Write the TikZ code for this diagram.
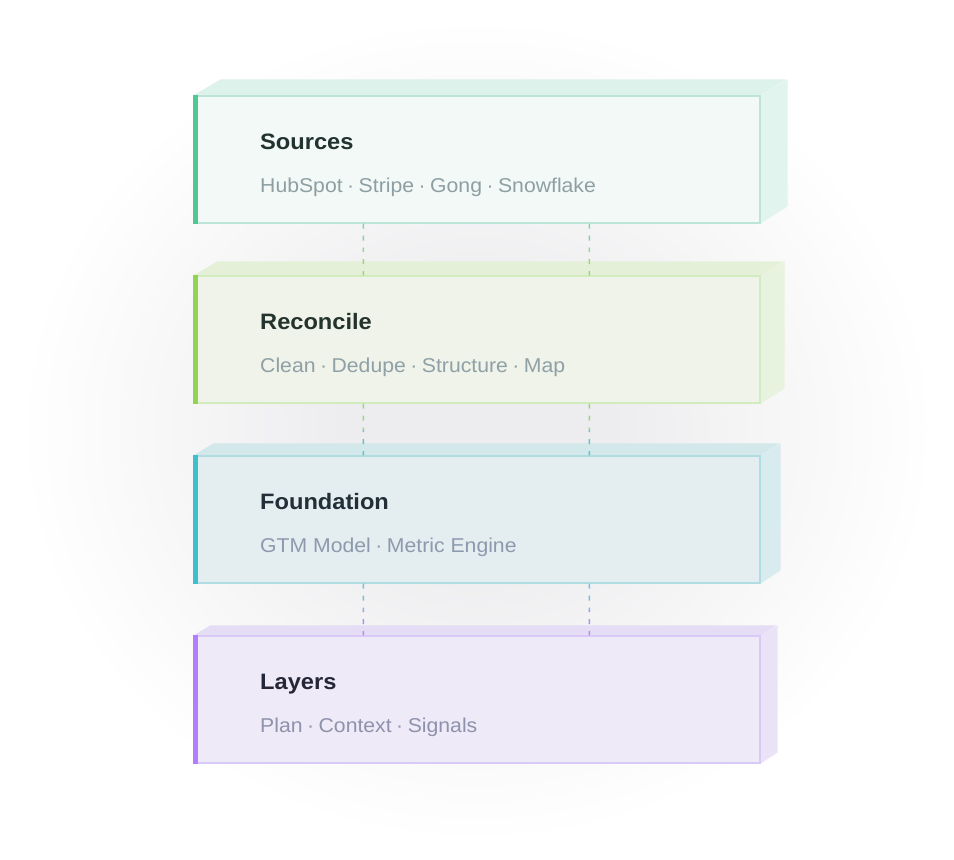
\documentclass[tikz,border=0pt]{standalone}
\usepackage{fontspec}
\setmainfont{Liberation Sans}
\newfontfamily\wfont[FakeStretch=1.06]{Liberation Sans}
\newfontfamily\sfont[FakeStretch=1.06]{Liberation Sans}
\usetikzlibrary{calc}
\pgfdeclarelayer{background}
\pgfsetlayers{background,main}

\definecolor{glowc}{HTML}{EDEDEF}
% Sources
\definecolor{aacc}{HTML}{4FC894}
\definecolor{afront}{HTML}{F2F9F7}
\definecolor{atop}{HTML}{DDF2EA}
\definecolor{aside}{HTML}{E2F4EE}
\definecolor{abd}{HTML}{BCE5D5}
\definecolor{attl}{HTML}{22332F}
\definecolor{asub}{HTML}{8E9FA3}
% Reconcile
\definecolor{bacc}{HTML}{92D351}
\definecolor{bfront}{HTML}{EFF3E9}
\definecolor{btop}{HTML}{E4F1D8}
\definecolor{bside}{HTML}{E8F3DF}
\definecolor{bbd}{HTML}{D2EBBF}
\definecolor{bttl}{HTML}{25332E}
\definecolor{bsub}{HTML}{8FA0A6}
% Foundation
\definecolor{cacc}{HTML}{3CC0CE}
\definecolor{cfront}{HTML}{E4EDF0}
\definecolor{ctop}{HTML}{D2E8EB}
\definecolor{cside}{HTML}{D8EBEE}
\definecolor{cbd}{HTML}{B0DDE2}
\definecolor{cttl}{HTML}{222F39}
\definecolor{csub}{HTML}{8D9AAD}
% Layers
\definecolor{dacc}{HTML}{B47CFF}
\definecolor{dfront}{HTML}{EEEAF7}
\definecolor{dtop}{HTML}{E5DDF5}
\definecolor{dside}{HTML}{EAE3F7}
\definecolor{dbd}{HTML}{D9C9F6}
\definecolor{dttl}{HTML}{252638}
\definecolor{dsub}{HTML}{8E92AC}
% dashes
\definecolor{d1a}{HTML}{80D4A6}
\definecolor{d1b}{HTML}{9CD67C}
\definecolor{d2a}{HTML}{9CD67C}
\definecolor{d2b}{HTML}{62C4C6}
\definecolor{d3a}{HTML}{72C0DA}
\definecolor{d3b}{HTML}{AA90F0}

\pgfdeclareradialshading{glow}{\pgfpoint{0bp}{0bp}}{color(0bp)=(glowc); color(7bp)=(glowc); color(24bp)=(white); color(50bp)=(white)}

\newcommand\sep{\kern4.5pt·\kern4.5pt}

\tikzset{
  frontbox/.style={draw, rectangle, minimum width=566pt, minimum height=127pt, inner sep=0pt, line width=1.2pt},
  ttl/.style={anchor=base west, inner sep=0pt, font=\wfont\bfseries\fontsize{22.3}{26}\selectfont},
  subt/.style={anchor=base west, inner sep=0pt, font=\sfont\fontsize{20}{24}\selectfont},
  dashline/.style={line width=1.5pt, dash pattern=on 5pt off 7pt}
}

\newcommand\layerblock[7]{%
  \node[frontbox, fill=#5front, draw=#5bd] (#1) at (477,{#2+63.5}) {};
  \begin{pgfonlayer}{background}
    \fill[#5top] (#1.north west) -- ++(#3,-#4) -- ++(566,0) -- (#1.north east) -- cycle;
    \fill[#5side] (#1.north east) -- ++(#3,-#4) -- ++(0,127) -- (#1.south east) -- cycle;
  \end{pgfonlayer}
  \fill[#5acc] ($(#1.north west)+(-0.6,-0.6)$) rectangle ($(#1.south west)+(5,0.6)$);
  \node[ttl, text=#5ttl] (#1t) at (260,{#2+53}) {#6};
  \node[subt, text=#5sub] (#1s) at (260,{#2+96}) {#7};
}

\begin{document}
\begin{tikzpicture}[x=1pt,y=-1pt]
\useasboundingbox (0,0) rectangle (954,860);
\begin{pgfonlayer}{background}
  \shade[shading=glow] (0,0) rectangle (954,860);
\end{pgfonlayer}

\layerblock{src}{96}{27}{16}{a}{Sources}{HubSpot\sep Stripe\sep Gong\sep Snowflake}
\layerblock{rec}{276}{24}{14}{b}{Reconcile}{Clean\sep Dedupe\sep Structure\sep Map}
\layerblock{fnd}{456}{20}{12}{c}{Foundation}{GTM Model\sep Metric Engine}
\layerblock{lay}{636}{17}{10}{d}{Layers}{Plan\sep Context\sep Signals}

% dashed connectors (two-tone halves)
\foreach \up/\dn/\ca/\cb in {src/rec/d1a/d1b, rec/fnd/d2a/d2b, fnd/lay/d3a/d3b}{
  \foreach \off in {170,396}{
    \coordinate (m) at ($(\up.south west)!0.5!(\dn.north west)+(\off,0)$);
    \draw[dashline, \ca] ($(\up.south west)+(\off,0)$) -- (m);
    \draw[dashline, \cb, dash phase=2.5pt] (m) -- ($(\dn.north west)+(\off,0)$);
  }
}
\end{tikzpicture}
\end{document}
